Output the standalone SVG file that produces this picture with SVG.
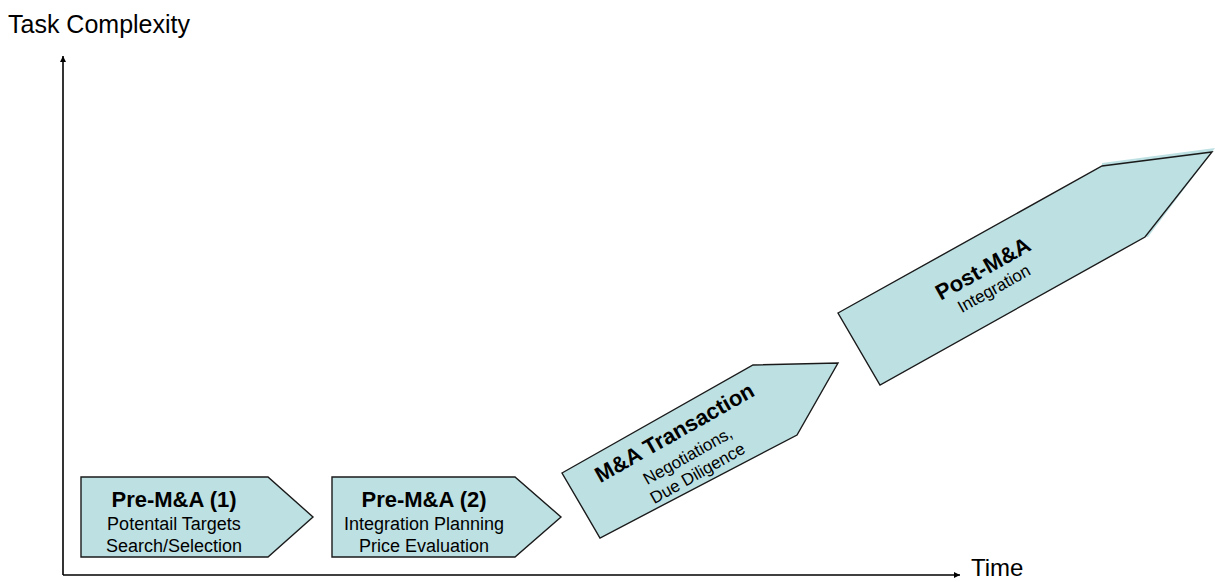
<svg xmlns="http://www.w3.org/2000/svg" width="1215" height="582" viewBox="0 0 1215 582">
<style>
.shape{fill:#bde0e3;stroke:#1a1a1a;stroke-width:1.4;stroke-linejoin:miter}
.halo{fill:#bde0e3;stroke:none}
.t{font-family:"Liberation Sans",Arial,sans-serif;fill:#000;text-anchor:middle}
.title{font-size:22px;font-weight:bold}
.sub{font-size:18px}
.sub2{font-size:17px}
.axis{stroke:#000;stroke-width:1.6;fill:none}
.lbl{font-family:"Liberation Sans",Arial,sans-serif;font-size:25px;fill:#000}
</style>
<defs>
<marker id="ah" viewBox="0 0 10 10" refX="10" refY="5" markerWidth="7" markerHeight="6" markerUnits="userSpaceOnUse" orient="auto">
<path d="M0,0 L10,5 L0,10 Z" fill="#000"/>
</marker>
</defs>
<rect width="1215" height="582" fill="#fff"/>
<g id="connectors">
<line class="axis" x1="63" y1="575" x2="63" y2="56" marker-end="url(#ah)"/>
<line class="axis" x1="63" y1="575" x2="960" y2="575" marker-end="url(#ah)"/>
</g>
<g id="axis-labels">
<text class="lbl" x="8" y="33">Task Complexity</text>
<text class="lbl" x="971" y="576" style="font-size:24px">Time</text>
</g>
<g id="pre1">
<polygon class="shape" points="81,477 268,477 313,517 268,557 81,557"/>
<text class="t title" x="174" y="507">Pre-M&amp;A (1)</text>
<text class="t sub" x="174" y="530">Potentail Targets</text>
<text class="t sub" x="174" y="552">Search/Selection</text>
</g>
<g id="pre2">
<polygon class="shape" points="332,477 515,477 561,517 515,557 332,557"/>
<text class="t title" x="424" y="507">Pre-M&amp;A (2)</text>
<text class="t sub" x="424" y="530">Integration Planning</text>
<text class="t sub" x="424" y="552">Price Evaluation</text>
</g>
<g id="transaction">
<polygon class="shape" points="562,473 753,365 838,363 797,435 600,538"/>
<g transform="translate(678,453) rotate(-29.5)">
<text class="t title" x="7" y="-12">M&amp;A Transaction</text>
<text class="t sub2" x="7" y="13">Negotiations,</text>
<text class="t sub2" x="7" y="33">Due Diligence</text>
</g>
</g>
<g id="post">
<polygon class="halo" points="1102,163 1215,148 1148,237 1102,230"/>
<polygon class="shape" points="838,313 1102,166 1212,152 1145,237 880,385"/>
<g transform="translate(991,275) rotate(-29.2)">
<text class="t title" x="-4" y="-2">Post-M&amp;A</text>
<text class="t sub2" x="-4" y="19">Integration</text>
</g>
</g>
</svg>
